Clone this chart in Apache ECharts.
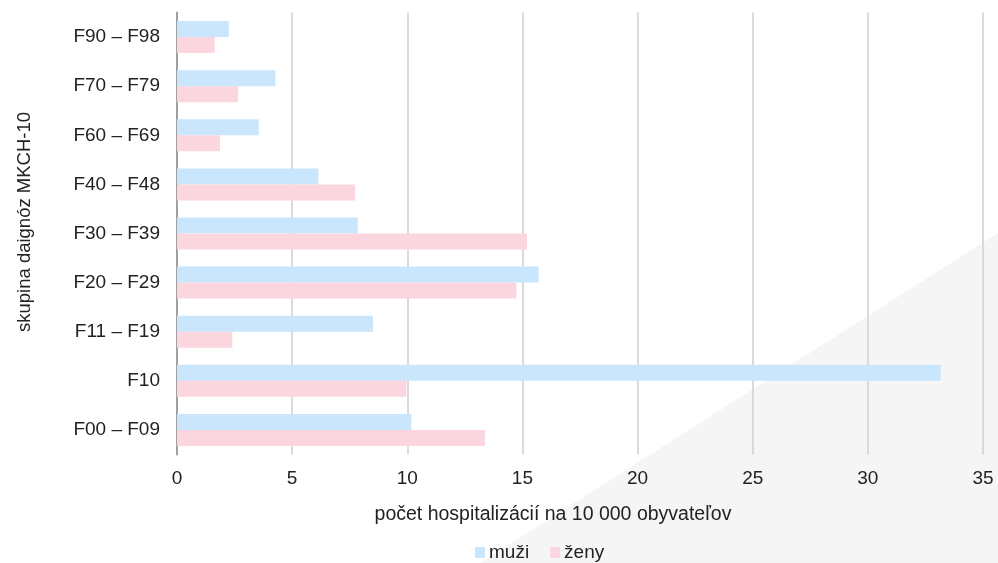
<!DOCTYPE html>
<html>
<head>
<meta charset="utf-8">
<script src="https://cdn.jsdelivr.net/npm/echarts@6/dist/echarts.min.js"></script>
<style>html,body{margin:0;padding:0;background:#fff}#c{width:998px;height:563px}</style>
</head>
<body>
<div id="c"></div>
<script>
const categories = ['F00 – F09','F10','F11 – F19','F20 – F29','F30 – F39','F40 – F48','F60 – F69','F70 – F79','F90 – F98'];
const muzi = [10.18, 33.16, 8.51, 15.7, 7.85, 6.14, 3.55, 4.27, 2.25];
const zeny = [13.37, 9.96, 2.40, 14.74, 15.2, 7.73, 1.87, 2.65, 1.64];
const xTicks = [0, 5, 10, 15, 20, 25, 30, 35];

const chart = echarts.init(document.getElementById('c'), null, {renderer:'canvas'});
const font = 'Liberation Sans, Arial, sans-serif';
chart.setOption({
  backgroundColor: '#ffffff',
  textStyle: {fontFamily: font},
  graphic: [{
    type: 'polygon', z: -10, silent: true,
    shape: {points: [[480,563],[998,233],[998,563]]},
    style: {fill: '#f5f5f5'}
  }],
  legend: {
    bottom: -4, left: 470,
    itemWidth: 10, itemHeight: 11, itemGap: 21,
    icon: 'rect',
    textStyle: {fontSize: 19, color: '#222', fontFamily: font, padding: [0,0,0,-1]},
    data: ['muži','ženy']
  },
  grid: {left: 177, right: 15, top: 12.5, bottom: 108.5, containLabel: false},
  xAxis: {
    type: 'value', min: 0, max: 35, interval: 5,
    axisLine: {show: false}, axisTick: {show: false},
    splitLine: {lineStyle: {color: '#dadada', width: 2}},
    axisLabel: {fontSize: 19, color: '#222', margin: 15, fontFamily: font,
      formatter: v => xTicks.includes(v) ? String(v) : ''},
    name: 'počet hospitalizácií na 10 000 obyvateľov',
    nameLocation: 'middle', nameGap: 50,
    nameTextStyle: {fontSize: 19.5, color: '#222', fontFamily: font, padding: [0,54,0,0]}
  },
  yAxis: {
    type: 'category', data: categories,
    axisLine: {show: true, lineStyle: {color: '#a0a0a0', width: 2}},
    axisTick: {show: false},
    axisLabel: {fontSize: 19, color: '#222', margin: 17, fontFamily: font},
    name: 'skupina daignóz MKCH-10',
    nameLocation: 'middle', nameGap: 143, nameRotate: 90,
    nameTextStyle: {fontSize: 18.5, color: '#222', fontFamily: font, padding: [0,0,0,23]}
  },
  series: [
    {name: 'muži', type: 'bar', data: muzi, barWidth: 16, barGap: '0%',
     itemStyle: {color: '#c9e6fc'}, animation: false},
    {name: 'ženy', type: 'bar', data: zeny, barWidth: 16, barGap: '0%',
     itemStyle: {color: '#fcd6de'}, animation: false}
  ]
});
</script>
</body>
</html>
